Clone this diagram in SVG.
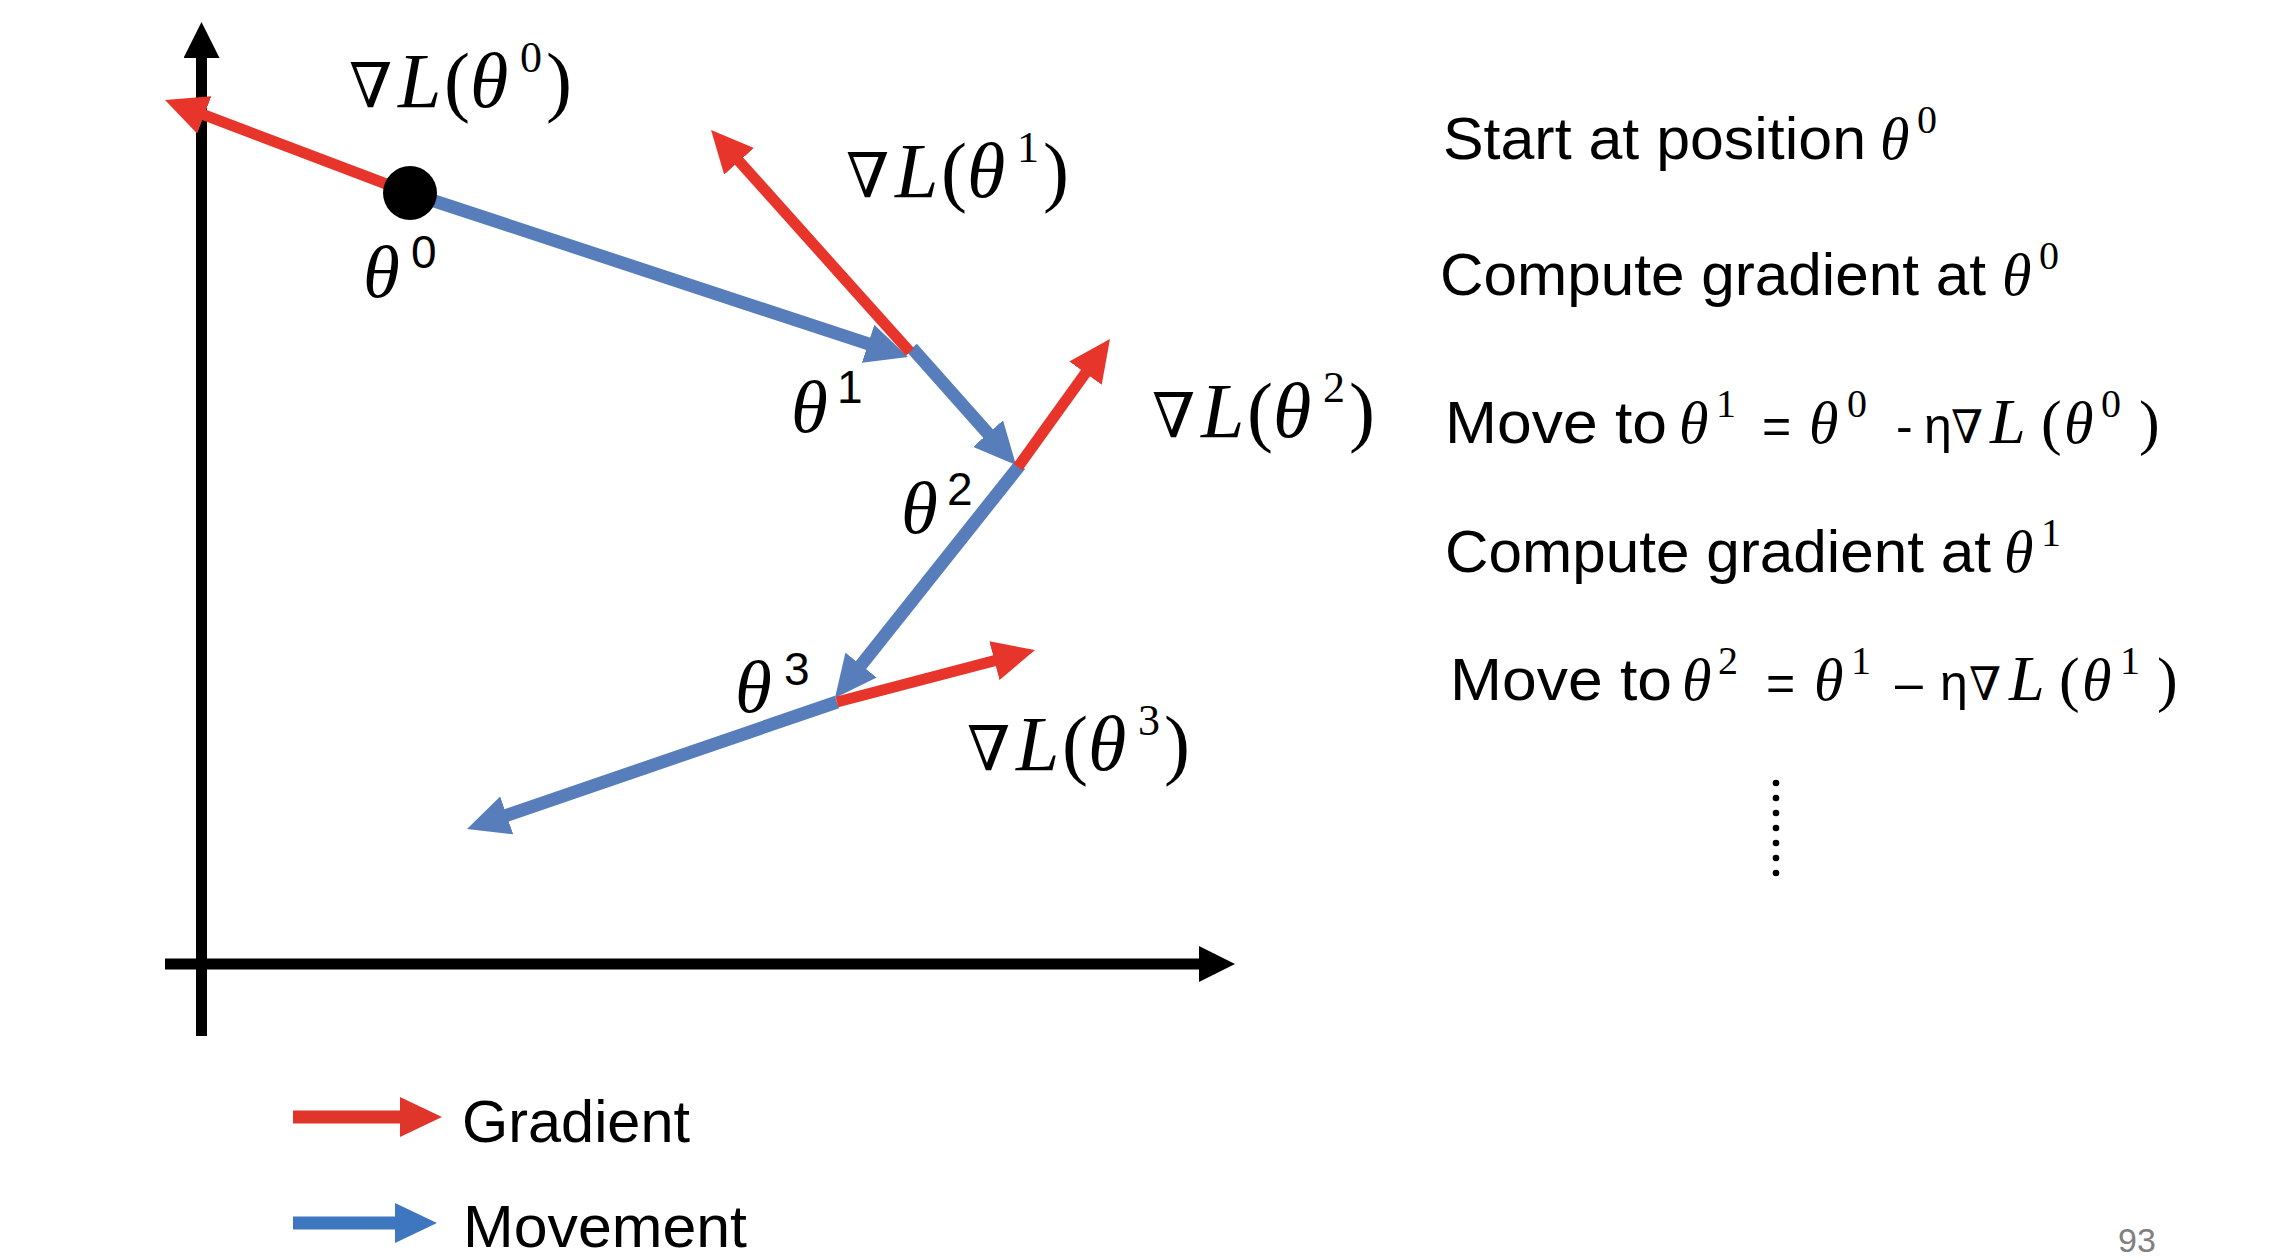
<svg xmlns="http://www.w3.org/2000/svg" width="2290" height="1258" viewBox="0 0 2290 1258">
<style>
.ax{stroke:#000;stroke-width:11;fill:none}
.rd{stroke:#E8352B;stroke-width:11;fill:none}
.bl{stroke:#577EBA;stroke-width:13;fill:none}
.lb{stroke:#3F76C0;stroke-width:13;fill:none}
.lr{stroke:#E0352B;stroke-width:13;fill:none}
.nab2{font-family:"DejaVu Serif",serif;font-size:62px}
.tI{font-family:"Liberation Serif",serif;font-style:italic;font-size:78px}
.tR{font-family:"Liberation Serif",serif;font-size:78px}
.tS{font-family:"Liberation Serif",serif;font-size:44px}
.th{font-family:"Liberation Serif",serif;font-style:italic;font-size:75px}
.thS{font-family:"Liberation Sans",sans-serif;font-size:46px}
.tx{font-family:"Liberation Sans",Arial,sans-serif;font-size:60px}
.mI{font-family:"Liberation Serif",serif;font-style:italic;font-size:60px}
.mL{font-family:"Liberation Serif",serif;font-style:italic;font-size:64px}
.mR{font-family:"Liberation Serif",serif;font-size:62px}
.mS{font-family:"Liberation Serif",serif;font-size:40px}
.mN{font-family:"DejaVu Serif",serif;font-style:italic;font-size:46px}
.mO{font-family:"Liberation Sans",sans-serif;font-size:50px}
</style>
<defs>
<marker id="mk" markerUnits="userSpaceOnUse" markerWidth="36" markerHeight="36" refX="18" refY="18" orient="auto"><path d="M0,0 L36,18 L0,36 z" fill="#000"/></marker>
<marker id="mr" markerUnits="userSpaceOnUse" markerWidth="42" markerHeight="40" refX="22" refY="20" orient="auto"><path d="M0,0 L42,20 L0,40 z" fill="#E8352B"/></marker>
<marker id="mb" markerUnits="userSpaceOnUse" markerWidth="42" markerHeight="40" refX="22" refY="20" orient="auto"><path d="M0,0 L42,20 L0,40 z" fill="#577EBA"/></marker>
<marker id="mlr" markerUnits="userSpaceOnUse" markerWidth="42" markerHeight="40" refX="22" refY="20" orient="auto"><path d="M0,0 L42,20 L0,40 z" fill="#E0352B"/></marker>
<marker id="mlb" markerUnits="userSpaceOnUse" markerWidth="42" markerHeight="40" refX="22" refY="20" orient="auto"><path d="M0,0 L42,20 L0,40 z" fill="#3F76C0"/></marker>
</defs>
<rect width="2290" height="1258" fill="#fff"/>

<g id="axes">
<line class="ax" x1="201.5" y1="1036" x2="201.5" y2="40" marker-end="url(#mk)"/>
<line class="ax" x1="165" y1="964" x2="1217" y2="964" marker-end="url(#mk)"/>
</g>

<g id="connectors">
<line class="bl" x1="410" y1="193" x2="889" y2="350.7" marker-end="url(#mb)"/>
<line class="bl" x1="912" y1="348" x2="1002.7" y2="450" marker-end="url(#mb)"/>
<line class="bl" x1="1020" y1="465" x2="847.4" y2="682.3" marker-end="url(#mb)"/>
<line class="bl" x1="837" y1="702" x2="485.9" y2="822.5" marker-end="url(#mb)"/>
<line class="rd" x1="410" y1="193" x2="183.7" y2="107.1" marker-end="url(#mr)"/>
<line class="rd" x1="910" y1="352" x2="724.4" y2="144.9" marker-end="url(#mr)"/>
<line class="rd" x1="1018" y1="467" x2="1098.3" y2="355.2" marker-end="url(#mr)"/>
<line class="rd" x1="837" y1="702" x2="1015.7" y2="655.1" marker-end="url(#mr)"/>
</g>

<g id="theta0-point"><circle cx="410" cy="193" r="27" fill="#000"/></g>

<g id="grad-label-0">
<text class="nab2" x="349" y="107">∇</text><text class="tI" x="398" y="107">L</text><text class="tR" x="444" y="107">(</text><text class="tI" x="470" y="107">θ</text><text class="tS" x="520" y="72">0</text><text class="tR" x="546" y="107">)</text>
</g>
<g id="grad-label-1">
<text class="nab2" x="846" y="197">∇</text><text class="tI" x="895" y="197">L</text><text class="tR" x="941" y="197">(</text><text class="tI" x="967" y="197">θ</text><text class="tS" x="1017" y="162">1</text><text class="tR" x="1043" y="197">)</text>
</g>
<g id="grad-label-2">
<text class="nab2" x="1152" y="437">∇</text><text class="tI" x="1201" y="437">L</text><text class="tR" x="1247" y="437">(</text><text class="tI" x="1273" y="437">θ</text><text class="tS" x="1323" y="402">2</text><text class="tR" x="1349" y="437">)</text>
</g>
<g id="grad-label-3">
<text class="nab2" x="967" y="770">∇</text><text class="tI" x="1016" y="770">L</text><text class="tR" x="1062" y="770">(</text><text class="tI" x="1088" y="770">θ</text><text class="tS" x="1138" y="735">3</text><text class="tR" x="1164" y="770">)</text>
</g>

<g id="theta-labels">
<text class="th" x="363" y="297">θ</text><text class="thS" x="411" y="268">0</text>
<text class="th" x="791" y="432">θ</text><text class="thS" x="837" y="403">1</text>
<text class="th" x="901" y="533">θ</text><text class="thS" x="947" y="505">2</text>
<text class="th" x="735" y="712">θ</text><text class="thS" x="784" y="685">3</text>
</g>

<g id="steps">
<g id="step1">
<text class="tx" x="1443" y="159" textLength="423" lengthAdjust="spacingAndGlyphs">Start at position</text>
<text class="mI" x="1880" y="159">θ</text><text class="mS" x="1917" y="133">0</text>
</g>
<g id="step2">
<text class="tx" x="1440" y="295" textLength="546" lengthAdjust="spacingAndGlyphs">Compute gradient at</text>
<text class="mI" x="2002" y="295">θ</text><text class="mS" x="2039" y="269">0</text>
</g>
<g id="step3">
<text class="tx" x="1445" y="443" textLength="222" lengthAdjust="spacingAndGlyphs">Move to</text>
<text class="mI" x="1679" y="443">θ</text><text class="mS" x="1716" y="417">1</text>
<text class="mO" x="1762" y="443">=</text>
<text class="mI" x="1809" y="443">θ</text><text class="mS" x="1847" y="417">0</text>
<text class="mO" x="1896" y="443">-</text>
<text class="mO" x="1924" y="443">η</text>
<text class="mN" x="1951" y="443">∇</text>
<text class="mL" x="1990" y="443">L</text>
<text class="mR" x="2041" y="443">(</text>
<text class="mI" x="2064" y="443">θ</text><text class="mS" x="2101" y="417">0</text>
<text class="mR" x="2139" y="443">)</text>
</g>
<g id="step4">
<text class="tx" x="1445" y="572" textLength="546" lengthAdjust="spacingAndGlyphs">Compute gradient at</text>
<text class="mI" x="2004" y="572">θ</text><text class="mS" x="2041" y="546">1</text>
</g>
<g id="step5">
<text class="tx" x="1450" y="700" textLength="222" lengthAdjust="spacingAndGlyphs">Move to</text>
<text class="mI" x="1682" y="700">θ</text><text class="mS" x="1718" y="674">2</text>
<text class="mO" x="1766" y="700">=</text>
<text class="mI" x="1814" y="700">θ</text><text class="mS" x="1851" y="674">1</text>
<text class="mO" x="1895" y="700">–</text>
<text class="mO" x="1940" y="700">η</text>
<text class="mN" x="1969" y="700">∇</text>
<text class="mL" x="2009" y="700">L</text>
<text class="mR" x="2059" y="700">(</text>
<text class="mI" x="2082" y="700">θ</text><text class="mS" x="2120" y="674">1</text>
<text class="mR" x="2157" y="700">)</text>
</g>
<g id="ellipsis" fill="#000">
<circle cx="1776" cy="783" r="3.3"/><circle cx="1776" cy="798" r="3.3"/><circle cx="1776" cy="813" r="3.3"/><circle cx="1776" cy="828" r="3.3"/><circle cx="1776" cy="843" r="3.3"/><circle cx="1776" cy="858" r="3.3"/><circle cx="1776" cy="873" r="3.3"/>
</g>
</g>

<g id="legend">
<line class="lr" x1="293" y1="1117" x2="422" y2="1117" marker-end="url(#mlr)"/>
<text class="tx" x="462" y="1142" textLength="228" lengthAdjust="spacingAndGlyphs">Gradient</text>
<line class="lb" x1="293" y1="1223" x2="417" y2="1223" marker-end="url(#mlb)"/>
<text class="tx" x="463" y="1247" textLength="284" lengthAdjust="spacingAndGlyphs">Movement</text>
</g>

<g id="page-number"><text x="2118" y="1252" font-family="Liberation Sans, sans-serif" font-size="34" fill="#808080">93</text></g>
</svg>
